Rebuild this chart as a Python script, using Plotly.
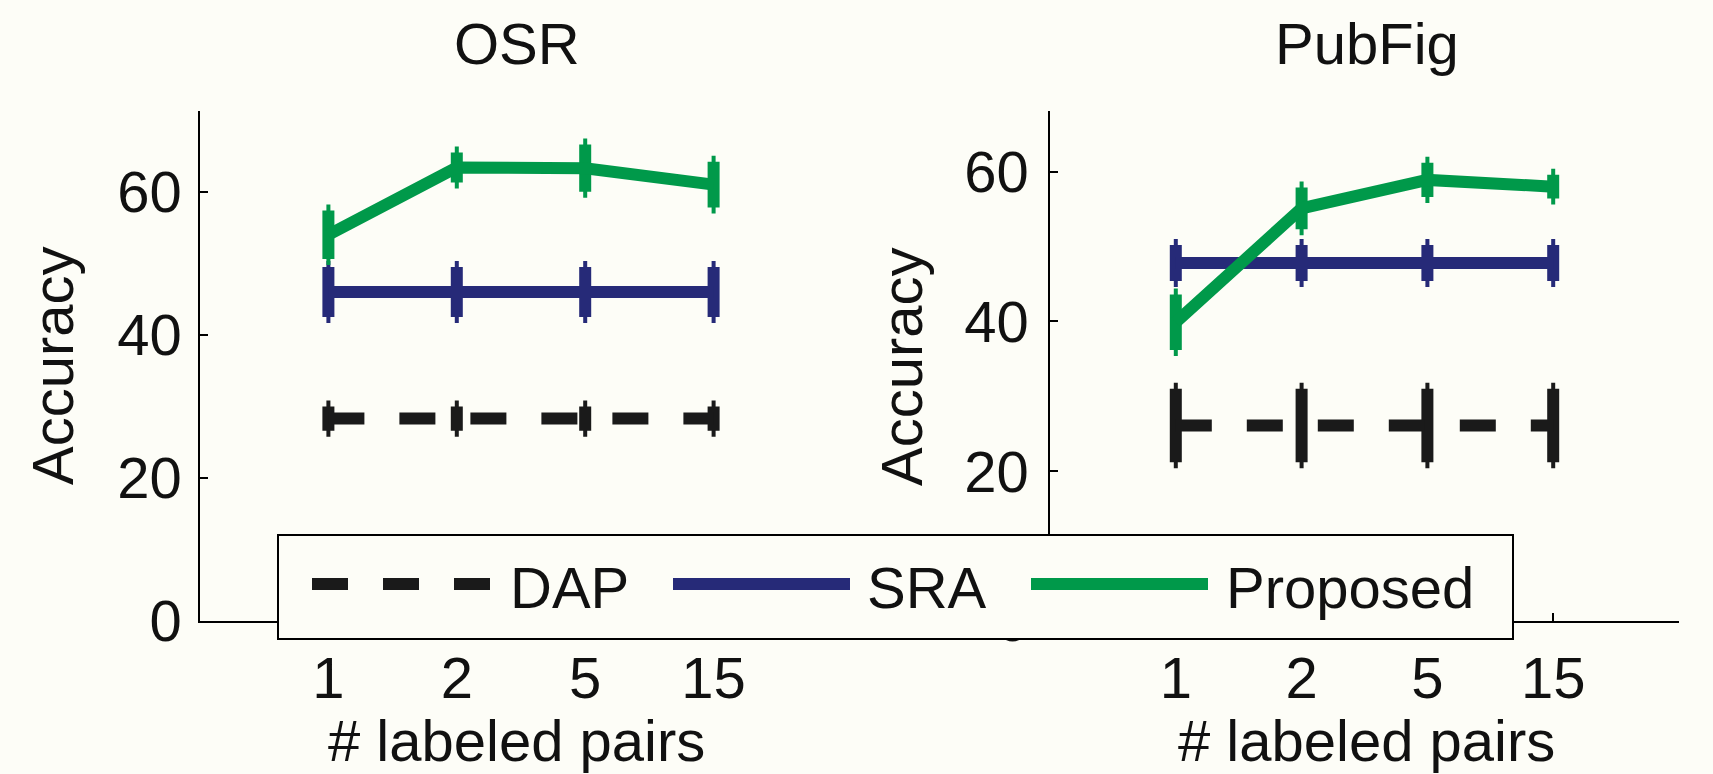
import plotly.graph_objects as go

# ---- data ----
pairs = ["1", "2", "5", "15"]

osr_dap = [28.3, 28.3, 28.3, 28.3]
osr_dap_err = [1.7, 1.7, 1.7, 1.7]
osr_sra = [46.0, 46.0, 46.0, 46.0]
osr_sra_err = [3.5, 3.5, 3.5, 3.5]
osr_prop = [54.0, 63.4, 63.3, 61.0]
osr_prop_err = [3.4, 2.1, 3.3, 3.2]

pub_dap = [26.1, 26.1, 26.1, 26.1]
pub_dap_err = [4.9, 4.9, 4.9, 4.9]
pub_sra = [47.8, 47.8, 47.8, 47.8]
pub_sra_err = [2.4, 2.4, 2.4, 2.4]
pub_prop = [39.9, 55.1, 58.9, 58.0]
pub_prop_err = [3.7, 2.8, 2.3, 1.6]

series_names = ["DAP", "SRA", "Proposed"]
panel_titles = ["OSR", "PubFig"]
x_title = "# labeled pairs"
y_title = "Accuracy"

# ---- style ----
W, H = 1713, 774
BG = "#fdfdf7"
C_DAP = "#1a1a1a"
C_SRA = "#262a78"
C_PROP = "#00994a"
LW = 12
DASH = "36px,35px"
FONT = "Liberation Sans, Arial, Helvetica, sans-serif"
FS = 58


def px(x):
    return x / W


def py(y):
    return 1 - y / H


fig = go.Figure()

panels = [
    ("x", "y", osr_dap, osr_dap_err, osr_sra, osr_sra_err, osr_prop, osr_prop_err),
    ("x2", "y2", pub_dap, pub_dap_err, pub_sra, pub_sra_err, pub_prop, pub_prop_err),
]
for xa, ya, dap, dape, sra, srae, prop, prope in panels:
    for vals, errs, col, dash, name in [
        (dap, dape, C_DAP, DASH, "DAP"),
        (sra, srae, C_SRA, "solid", "SRA"),
        (prop, prope, C_PROP, "solid", "Proposed"),
    ]:
        fig.add_trace(go.Scatter(
            x=pairs, y=vals, xaxis=xa, yaxis=ya, mode="lines", name=name,
            showlegend=False,
            line=dict(color=col, width=LW, dash=dash),
            error_y=dict(type="data", array=errs, visible=True, color=col,
                         thickness=LW, width=2),
        ))

axis_common = dict(
    showline=True, linecolor="black", linewidth=1.5,
    ticks="inside", ticklen=8, tickwidth=1.5, tickcolor="black",
    showgrid=False, zeroline=False, automargin=False,
    tickfont=dict(family=FONT, size=FS, color="#111111"),
)

ydom = [py(621), py(111)]
fig.update_layout(
    template="none",
    width=W, height=H,
    margin=dict(l=0, r=0, t=0, b=0, pad=0),
    paper_bgcolor=BG, plot_bgcolor=BG,
    showlegend=False,
    xaxis=dict(domain=[px(200), px(842)], type="category", range=[-1, 4],
               anchor="y", ticklabelstandoff=6, **axis_common),
    yaxis=dict(domain=ydom, range=[0, 71.3], tickvals=[0, 20, 40, 60],
               anchor="x", ticklabelstandoff=5, **axis_common),
    xaxis2=dict(domain=[px(1050), px(1679)], type="category", range=[-1, 4],
                anchor="y2", ticklabelstandoff=6, **axis_common),
    yaxis2=dict(domain=ydom, range=[0, 68.1], tickvals=[0, 20, 40, 60],
                anchor="x2", ticklabelstandoff=8, **axis_common),
)

ann_font = dict(family=FONT, size=FS, color="#111111")
annotations = []
# panel titles
for cx, cy, t in [(517, 44, panel_titles[0]), (1367, 44, panel_titles[1])]:
    annotations.append(dict(x=px(cx), y=py(cy), xref="paper", yref="paper",
                            text=t, showarrow=False, font=ann_font,
                            xanchor="center", yanchor="middle"))
# axis titles
for cx, cy in [(516, 740), (1366, 740)]:
    annotations.append(dict(x=px(cx), y=py(cy), xref="paper", yref="paper",
                            text=x_title, showarrow=False, font=ann_font,
                            borderpad=0, xanchor="center", yanchor="middle"))
for cx, cy in [(53, 366), (902, 366)]:
    annotations.append(dict(x=px(cx), y=py(cy), xref="paper", yref="paper",
                            text=y_title, showarrow=False, font=ann_font,
                            textangle=-90, xanchor="center", yanchor="middle"))

# custom legend
shapes = [dict(type="rect", xref="paper", yref="paper",
               x0=px(278), x1=px(1513), y0=py(639), y1=py(535),
               line=dict(color="black", width=2), fillcolor=BG, layer="above")]
leg_y = 584
leg_items = [
    (312, 491, 508, C_DAP, DASH, series_names[0]),
    (673, 850, 865, C_SRA, "solid", series_names[1]),
    (1031, 1208, 1224, C_PROP, "solid", series_names[2]),
]
for x0, x1, tx, col, dash, name in leg_items:
    shapes.append(dict(type="line", xref="paper", yref="paper",
                       x0=px(x0), x1=px(x1), y0=py(leg_y), y1=py(leg_y),
                       line=dict(color=col, width=LW, dash=dash), layer="above"))
    annotations.append(dict(x=px(tx), y=py(leg_y + 3), xref="paper", yref="paper",
                            text=name, showarrow=False, font=ann_font,
                            xanchor="left", yanchor="middle"))

fig.update_layout(shapes=shapes, annotations=annotations)
fig.write_html(
    "out.html",
    config={"displayModeBar": False},
    post_script="document.body.style.margin='0';document.body.style.overflow='hidden';",
)
